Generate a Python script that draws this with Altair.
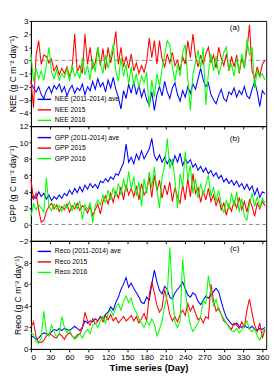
import altair as alt
import pandas as pd

days = list(range(0, 365, 4))

nee_ave = [-1.7, -2.1, -2.4, -2.0, -2.6, -2.9, -2.3, -2.0, -2.5, -1.9,
           -2.2, -1.8, -2.4, -2.0, -2.7, -2.2, -1.9, -2.5, -2.1, -2.3,
           -1.8, -2.6, -2.0, -2.3, -1.6, -2.2, -1.4, -2.0, -1.7, -2.4,
           -1.5, -2.1, -1.3, -2.2, -2.8, -3.7, -2.3, -2.9, -1.8, -2.5,
           -1.6, -2.6, -1.9, -2.8, -2.2, -3.0, -3.4, -2.4, -3.8, -2.6,
           -2.0, -2.7, -1.6, -2.4, -2.9, -2.1, -1.7, -2.6, -3.1, -2.3,
           -2.8, -2.0, -2.5, -1.8, -2.2, -1.4, -0.6, -1.5, -2.0, -1.7,
           -2.6, -3.0, -3.3, -2.7, -2.2, -2.9, -3.1, -2.4, -2.6, -2.1,
           -2.8, -2.3, -2.6, -2.0, -2.7, -2.9, -2.2, -1.6, -2.4, -3.5,
           -2.3, -2.6]
nee_2015 = [-1.5, -3.6, 0.4, 1.5, -0.3, 0.4, 0.3, -0.2, 0.1, -0.8,
            -0.4, -1.1, -0.6, -1.0, -0.5, -1.2, -0.7, 2.0, -0.9, -0.4,
            -1.0, 2.0, -0.3, 1.0, -0.6, -0.2, 1.0, -0.4, 0.9, -0.7,
            1.0, -0.2, 0.8, 2.2, -0.3, 1.0, -0.5, 0.3, -0.6, 0.5,
            -0.8, -0.2, -1.0, -0.4, -0.9, -0.1, 1.7, 0.2, 1.5, -0.3,
            1.5, 0.1, -0.5, 0.5, -0.2, 0.6, -0.4, 0.0, -0.8, 0.3,
            -0.3, 1.5, 0.2, 2.0, 0.3, -0.5, 0.4, -0.3, 0.5, 1.0,
            -0.2, 0.4, -0.6, 1.0, 0.2, -0.4, 0.5, -0.8, 0.3, -0.5,
            0.4, -1.0, 0.2, -0.6, 0.8, 2.7, -0.8, -1.4, -0.5, -1.2,
            -0.3, 0.0]
nee_2016 = [0.5, -1.6, -0.6, -1.4, -0.8, -1.5, -0.4, 1.0, -0.9, -1.4,
            -0.7, -1.5, -1.0, -1.3, -0.6, -1.6, -0.3, -1.2, -0.8, -1.4,
            0.2, -1.1, -0.4, -1.5, 0.1, -0.9, 1.0, -0.2, -1.0, 0.4,
            -0.6, 0.3, 1.2, -0.8, -1.6, 0.2, -1.2, -0.3, -1.8, -0.5,
            -1.9, -1.0, -2.1, -1.2, -1.7, -0.9, -3.6, -1.5, -2.8, -1.0,
            -2.0, -0.6, 0.4, 1.5, 1.2, -0.5, -1.6, -0.3, -1.2, 0.6,
            1.2, -1.4, -3.8, -1.0, -0.2, 0.8, -0.6, 1.0, -3.4, -1.0,
            0.5, -0.8, 0.3, -1.1, -0.4, 0.6, 1.0, -0.7, -0.3, -1.2,
            0.2, -0.9, 0.5, -0.6, 1.6, 0.4, 1.0, -2.1, -0.8, -1.3,
            -1.0, -1.5]

gpp_ave = [3.0, 3.5, 3.2, 4.0, 3.4, 3.8, 3.1, 3.6, 2.9, 3.4,
           3.1, 3.6, 3.2, 3.8, 3.5, 4.2, 3.7, 4.4, 3.9, 4.6,
           4.0, 4.8, 4.3, 5.0, 4.5, 4.9, 4.4, 5.3, 5.1, 5.6,
           5.2, 5.8, 5.5, 6.2, 6.0, 6.8, 7.5, 9.8, 7.6, 8.2,
           7.4, 8.6, 7.9, 9.0, 8.0, 8.6, 9.2, 10.5, 8.4, 7.8,
           8.5, 7.6, 8.2, 7.4, 8.0, 7.3, 8.4, 7.6, 8.7, 7.2,
           8.0, 7.5, 7.9, 7.0, 7.4, 6.6, 7.1, 6.4, 6.9, 6.2,
           6.6, 5.9, 6.3, 5.6, 6.0, 5.2, 5.6, 5.0, 5.4, 4.8,
           5.3, 4.6, 5.0, 4.3, 4.9, 4.2, 4.7, 3.6, 4.4, 3.3,
           4.0, 3.8]
gpp_2015 = [5.5, 3.0, 3.8, 1.8, 0.3, 0.5, 1.6, 2.2, 2.6, 1.9,
            2.4, 1.6, 2.2, 1.8, 2.5, 1.5, 2.3, 1.9, 2.6, 1.7,
            2.3, 2.0, 1.4, 2.2, 1.1, 1.8, 2.5, 1.3, 2.8, 3.5,
            2.5, 3.8, 2.7, 4.0, 3.2, 4.6, 3.0, 4.9, 3.6, 4.4,
            3.4, 4.7, 3.0, 5.0, 3.6, 4.2, 5.8, 3.3, 6.0, 4.1,
            5.4, 3.2, 4.8, 3.6, 5.2, 2.8, 4.5, 3.4, 2.6, 4.9,
            3.0, 5.6, 3.4, 6.2, 3.8, 4.5, 2.7, 4.1, 3.0, 4.4,
            2.8, 3.6, 2.3, 3.2, 1.8, 2.6, 1.1, 2.4, 1.6, 2.9,
            2.0, 3.3, 1.8, 2.8, 1.5, 3.0, 2.2, 1.0, 2.6, 1.9,
            2.8, 2.3]
gpp_2016 = [1.0, 2.5, 1.8, 2.4, 2.0, 1.5, 5.7, 2.2, 1.7, 2.5,
            1.9, 2.3, 1.6, 2.4, 2.0, 2.8, 1.7, 2.6, 1.9, 2.9,
            0.6, 2.4, 1.8, 2.7, 0.2, 2.3, 3.0, 2.4, 3.6, 2.6,
            4.2, 3.0, 4.5, 3.4, 5.0, 3.6, 5.6, 4.0, 6.5, 4.3,
            5.8, 3.5, 5.2, 2.2, 5.6, 3.8, 6.4, 4.5, 7.0, 4.2,
            2.0, 5.8, 7.2, 10.5, 6.8, 8.0, 5.4, 2.0, 6.2, 4.6,
            8.9, 5.5, 7.2, 3.8, 5.6, 3.2, 5.0, 3.6, 4.8, 6.0,
            3.4, 4.6, 2.8, 4.2, 2.5, 1.4, 3.0, 1.8, 3.8, 2.2,
            4.0, 1.5, 3.2, 1.0, 0.5, 2.5, 3.8, 2.2, 3.4, 2.0,
            3.2, 2.6]

reco_ave = [1.2, 1.1, 0.9, 1.0, 1.3, 1.5, 1.4, 1.3, 1.6, 1.8,
            1.7, 1.9, 1.7, 1.9, 1.8, 1.7, 1.9, 2.1, 1.9, 1.7,
            2.0, 2.6, 2.4, 2.6, 2.5, 2.8, 2.6, 3.0, 2.8, 3.2,
            3.4, 3.9, 3.6, 4.3, 4.8, 5.5, 6.0, 6.6, 5.7, 6.1,
            5.6, 5.2, 4.8, 4.3, 4.2, 4.8, 4.5, 6.0, 7.3, 6.2,
            5.4, 5.1, 5.8, 5.5, 4.8, 4.6, 5.2, 5.5, 5.8, 6.2,
            5.6, 5.0, 4.8, 5.2, 5.0, 4.4, 4.1, 4.5, 4.9, 4.7,
            5.0, 5.3, 5.6, 5.3, 4.4, 3.6, 2.9, 2.6, 2.3, 2.2,
            2.4, 2.1, 2.0, 2.2, 2.0, 1.9, 2.1, 1.8, 1.7, 1.9,
            1.8, 2.0]
reco_2015 = [2.0, 2.5, 1.1, 0.6, 0.6, 0.8, 1.2, 1.4, 1.3, 1.1,
             1.0, 1.4, 1.2, 0.9, 1.3, 1.5, 1.2, 1.0, 1.3, 1.4,
             1.9, 3.4, 2.6, 2.2, 2.8, 2.3, 2.6, 3.0, 2.5, 3.1,
             2.7, 3.2, 2.6, 2.9, 2.4, 2.7, 3.0, 2.6, 2.8, 3.1,
             2.6, 3.0, 2.4, 2.8, 3.3, 2.6, 5.0, 6.2, 5.2, 4.0,
             3.4, 3.8, 5.5, 4.4, 3.2, 2.6, 3.0, 2.5, 3.2, 3.6,
             3.1, 4.2, 3.5, 4.0, 3.3, 2.7, 2.9, 2.4, 3.0, 2.8,
             6.0, 4.5, 3.5, 3.8, 3.2, 2.6, 2.4, 2.1, 1.8, 2.4,
             2.2, 1.9, 2.5, 2.0, 3.6, 4.6, 3.3, 2.2, 1.6, 2.4,
             1.0, 1.8]
reco_2016 = [1.5, 1.3, 0.7, 0.5, 1.0, 3.5, 1.5, 1.2, 2.2, 1.6,
             1.1, 1.4, 3.0, 2.0, 1.5, 1.8, 1.2, 0.9, 1.1, 1.4,
             1.0, 1.5, 1.8, 1.4, 2.2, 2.4, 2.0, 2.6, 3.0, 2.4,
             3.3, 3.6, 3.1, 3.8, 4.2, 3.6, 4.4, 4.9, 4.3, 4.7,
             3.8, 3.4, 2.8, 2.4, 2.0, 2.6, 2.2, 2.8, 2.3, 1.2,
             1.8, 2.6, 4.0, 5.0, 9.4, 5.0, 2.5, 2.0, 2.6, 8.3,
             5.5, 3.5, 2.2, 1.6, 2.0, 2.4, 3.0, 4.5, 4.2, 6.8,
             5.2, 4.0, 4.6, 3.6, 3.2, 2.8, 2.4, 2.0, 1.7, 1.6,
             1.9, 1.5, 1.8, 2.2, 2.6, 1.8, 1.6, 1.9, 1.2, 0.8,
             1.5, 1.9]

nee_labels = ["NEE (2011-2014) ave", "NEE 2015", "NEE 2016"]
gpp_labels = ["GPP (2011-2014) ave", "GPP 2015", "GPP 2016"]
reco_labels = ["Reco (2011-2014) ave", "Reco 2015", "Reco 2016"]
colors = ["#0000ff", "#ff0000", "#00ff00"]
x_ticks = list(range(0, 361, 30))


def long_df(labels, series):
    rows = []
    for lab, vals in zip(labels, series):
        for d, v in zip(days, vals):
            rows.append({"day": d, "value": v, "series": lab})
    return pd.DataFrame(rows)


FONT = "Liberation Sans"
W = 246


def panel(labels, series, ytitle, ydomain, yvalues, tag, tag_y, show_x,
          zero_line, legend_y, height):
    df = long_df(labels, series)
    xaxis = alt.Axis(values=x_ticks, labels=show_x, tickSize=3,
                     title="Time series (Day)" if show_x else None,
                     labelFontSize=8.5, titleFontSize=10, titleFontWeight="bold",
                     titlePadding=2, labelPadding=1, grid=False, labelOverlap=False)
    yaxis = alt.Axis(values=yvalues, title=ytitle, tickSize=2, labelPadding=1,
                     titlePadding=1, labelFontSize=8.5, titleFontSize=9,
                     titleFontWeight="normal", grid=False, labelOverlap=False)
    yscale = alt.Scale(domain=ydomain, nice=False, zero=False)
    xenc = alt.X("day:Q", scale=alt.Scale(domain=[0, 366], nice=False, zero=False), axis=xaxis)
    yenc = alt.Y("value:Q", scale=yscale, axis=yaxis)
    lines = alt.Chart(df).mark_line(strokeWidth=1.1).encode(
        x=xenc,
        y=yenc,
        color=alt.Color("series:N", sort=labels,
                        scale=alt.Scale(domain=labels, range=colors),
                        legend=alt.Legend(orient="none", legendX=6, legendY=legend_y,
                                          title=None, symbolType="stroke",
                                          symbolSize=196, symbolStrokeWidth=1.5,
                                          labelFontSize=7, labelFont=FONT,
                                          rowPadding=-7.5, labelOffset=3)),
    )
    layers = [lines]
    if zero_line:
        zdf = pd.DataFrame({"value": [0]})
        rule = alt.Chart(zdf).mark_rule(color="#888888", strokeDash=[4, 3],
                                        strokeWidth=1).encode(y=yenc)
        layers = [rule, lines]
    tdf = pd.DataFrame({"t": [tag]})
    layers.append(alt.Chart(tdf).mark_text(fontSize=8.5, font=FONT, align="center").encode(
        text="t:N", x=alt.value(213), y=alt.value(tag_y)))
    return alt.layer(*layers).properties(width=W, height=height)


pa = panel(nee_labels, [nee_ave, nee_2015, nee_2016], "NEE (g C m⁻² day⁻¹)",
           [-5, 3], [-4, -3, -2, -1, 0, 1, 2, 3], "(a)", 7, False, True, 74, 110)
pb = panel(gpp_labels, [gpp_ave, gpp_2015, gpp_2016], "GPP (g C m⁻² day⁻¹)",
           [-2, 12], [-2, 0, 2, 4, 6, 8, 10, 12], "(b)", 13, False, True, 4, 120)
pc = panel(reco_labels, [reco_ave, reco_2015, reco_2016], "Reco (g C m⁻² day⁻¹)",
           [0, 10], [0, 2, 4, 6, 8], "(c)", 8, True, False, 3, 113)

chart = alt.vconcat(pa, pb, pc, spacing=0, bounds="flush").resolve_scale(
    color="independent", y="independent").resolve_legend(color="independent").properties(
    padding={"left": 0, "top": 0, "right": 1, "bottom": 0}
).configure_view(stroke="black", strokeWidth=1).configure_axis(
    domainColor="black", tickColor="black", labelColor="black", titleColor="black",
    labelFont=FONT, titleFont=FONT
).configure_text(font=FONT)

chart.save("out.html", embed_options={"renderer": "svg", "actions": False})
